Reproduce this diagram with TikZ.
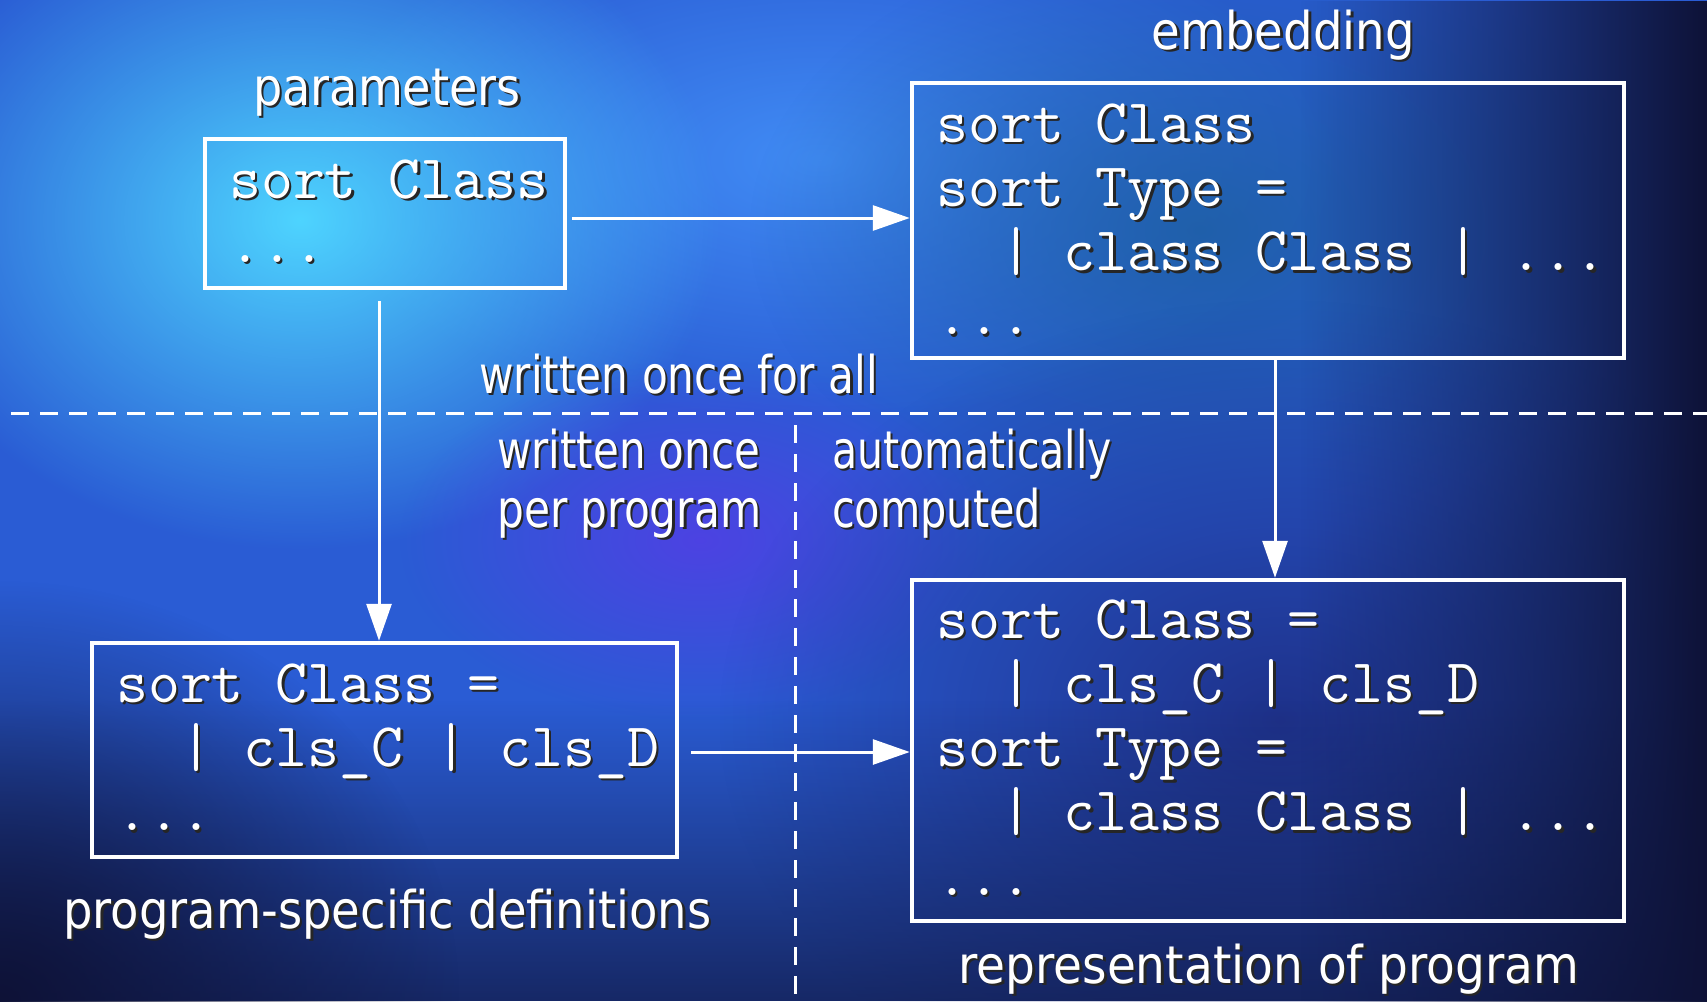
\documentclass[tikz,border=0pt]{standalone}
\usepackage{fontspec}
\setmainfont[FakeStretch=0.85]{DejaVu Sans}
\usetikzlibrary{arrows.meta,fadings}
\tikzfading[name=fadeRight, left color=transparent!100, right color=transparent!0]
\tikzfading[name=fadeDown, top color=transparent!100, bottom color=transparent!0]
\tikzfading[name=fadeOut, inner color=transparent!0, outer color=transparent!100]
\definecolor{bgbase}{RGB}{42,92,212}
\definecolor{cyanblob}{RGB}{78,212,255}
\definecolor{lightblob}{RGB}{65,140,245}
\definecolor{purpblob}{RGB}{85,60,230}
\definecolor{tealblob}{RGB}{30,95,165}
\definecolor{darknavy}{RGB}{14,18,55}
\definecolor{deepblue}{RGB}{28,42,125}
\newcommand\shd[1]{\makebox[0pt][l]{\hspace{2.5pt}\raisebox{-2.5pt}{\color{black!85}#1}}#1}
\tikzset{
  box/.style={draw=white, line width=4.5pt, inner sep=0pt},
  mono/.style={anchor=base west, inner sep=0pt, text=white, font=\fontsize{62}{64.3}\selectfont\ttfamily},
  lbl/.style={inner sep=0pt, text=white, font=\fontsize{52}{59}\selectfont},
  conn/.style={draw=white, line width=3pt, -{Triangle[length=37pt,width=25pt]}},
  divider/.style={draw=white, line width=3pt, dash pattern=on 18pt off 11pt},
}
\begin{document}
\begin{tikzpicture}[x=1pt,y=-1pt]
\useasboundingbox (0,0) rectangle (1707,1001);
% background
\fill[bgbase] (0,0) rectangle (1707,1001);
\fill[lightblob, path fading=fadeOut] (820,160) ellipse [x radius=520pt, y radius=260pt];
\fill[tealblob, path fading=fadeOut, opacity=0.9] (1200,230) ellipse [x radius=450pt, y radius=300pt];
\fill[cyanblob, path fading=fadeOut] (300,220) ellipse [x radius=420pt, y radius=330pt];
\fill[purpblob, path fading=fadeOut, opacity=0.8] (700,540) ellipse [x radius=300pt, y radius=180pt];
\fill[deepblue, path fading=fadeOut, opacity=0.85] (1280,720) ellipse [x radius=560pt, y radius=420pt];
\fill[darknavy, path fading=fadeDown, opacity=0.7] (0,700) rectangle (1707,1001);
\fill[darknavy, path fading=fadeOut] (0,1001) ellipse [x radius=460pt, y radius=420pt];
\fill[darknavy, path fading=fadeRight] (1300,0) rectangle (1707,1001);
% dividers
\coordinate (hl) at (11,413);
\coordinate (hr) at (1707,413);
\coordinate (vt) at (795,425);
\coordinate (vb) at (795,1001);
\draw[divider] (hl) -- (hr);
\draw[divider] (vt) -- (vb);
% boxes
\node[box, minimum width=360pt, minimum height=149pt] (params) at (385,213.5) {};
\node[box, minimum width=712pt, minimum height=275pt] (emb) at (1268,220.5) {};
\node[box, minimum width=585pt, minimum height=214pt] (prog) at (384.5,750) {};
\node[box, minimum width=712pt, minimum height=341pt] (rep) at (1268,750.5) {};
% code texts
\node[mono] (ptext) at (229,198) {\parbox[t]{12cm}{\shd{sort Class}\\\shd{...}}};
\node[mono] (etext) at (936,142) {\parbox[t]{24cm}{\shd{sort Class}\\\shd{sort Type =}\\\shd{~~| class Class | ...}\\\shd{...}}};
\node[mono] (gtext) at (116,702) {\parbox[t]{20cm}{\shd{sort Class =}\\\shd{~~| cls\_C | cls\_D}\\\shd{...}}};
\node[mono] (rtext) at (936,638) {\parbox[t]{24cm}{\shd{sort Class =}\\\shd{~~| cls\_C | cls\_D}\\\shd{sort Type =}\\\shd{~~| class Class | ...}\\\shd{...}}};
% labels
\node[lbl, anchor=base] (lparam) at (387,105) {\scalebox{1.043}[1]{\shd{parameters}}};
\node[lbl, anchor=base] (lemb) at (1283,49) {\scalebox{1.053}[1]{\shd{embedding}}};
\node[lbl, anchor=base west] (lall) at (479,393) {\scalebox{0.955}[1]{\shd{written once for all}}};
\node[lbl, anchor=base west] (lper) at (497,468) {\parbox[t]{10cm}{\scalebox{0.949}[1]{\shd{written once}}\\\scalebox{0.956}[1]{\shd{per program}}}};
\node[lbl, anchor=base west] (lauto) at (832,468) {\parbox[t]{10cm}{\scalebox{0.928}[1]{\shd{automatically}}\\\scalebox{0.936}[1]{\shd{computed}}}};
\node[lbl, anchor=base west] (lprog) at (63,928) {\scalebox{1.051}[1]{\shd{program-specific definitions}}};
\node[lbl, anchor=base west] (lrep) at (958,983) {\scalebox{1.064}[1]{\shd{representation of program}}};
% connectors
\draw[conn] ([xshift=5pt,yshift=-4.5pt]params.east) -- ([yshift=-4.5pt]params.east -| emb.west);
\draw[conn] ([xshift=-6pt,yshift=-11pt]params.south) -- ([xshift=-6pt]params.south |- prog.north);
\draw[conn] ([xshift=7pt]emb.south) -- ([xshift=7pt]emb.south |- rep.north);
\draw[conn] ([xshift=12pt,yshift=-2pt]prog.east) -- ([yshift=-2pt]prog.east -| rep.west);
\end{tikzpicture}
\end{document}
